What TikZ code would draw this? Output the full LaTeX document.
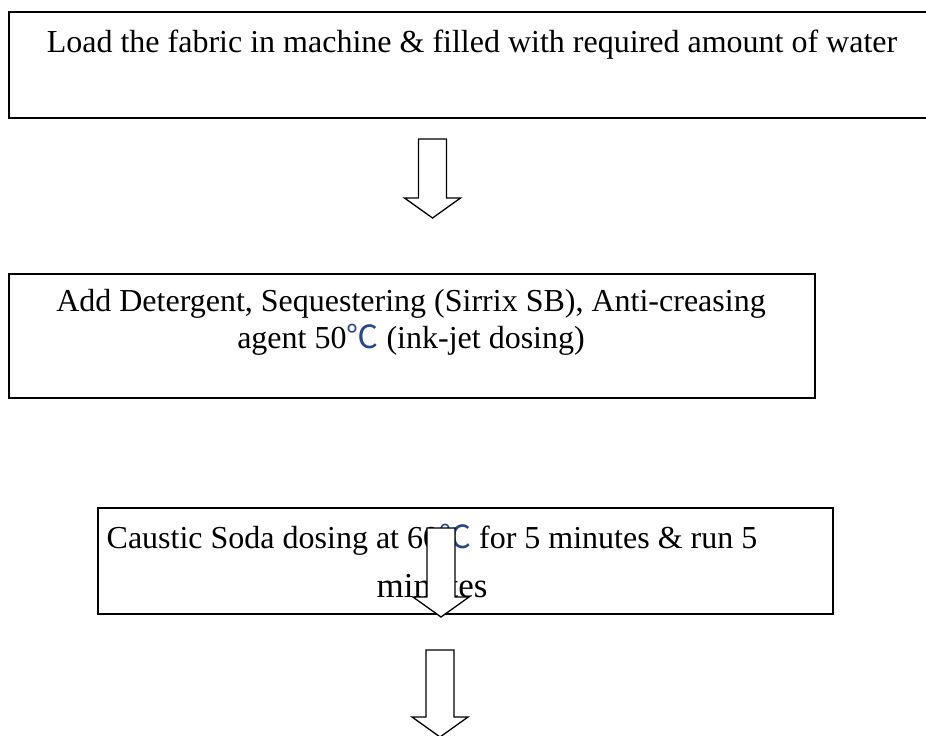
\documentclass[tikz,border=0pt]{standalone}
\usepackage{fontspec}
\setmainfont{Liberation Serif}
\newfontfamily\cjkfont{Noto Sans CJK SC}
\usepackage{xcolor}
\definecolor{degblue}{RGB}{40,70,140}
\usetikzlibrary{positioning}
\newcommand{\degC}{{\cjkfont\color{degblue}℃}}
\tikzset{pics/blockdown/.style={code={
  \draw[hollow] (-14,0) -- (-14,#1) -- (-28,#1) -- (0,#1+20) -- (28,#1) -- (14,#1) -- (14,0) -- cycle;}}}

\begin{document}
\begin{tikzpicture}[x=0.5pt,y=-0.5pt]
  \tikzstyle{stepbox}=[rectangle,draw=black,line width=1pt,inner sep=0pt,anchor=north west]
  \tikzstyle{steptext}=[inner sep=0pt,align=center,font=\fontsize{16}{18.4}\selectfont]
  \tikzstyle{hollow}=[draw=black,line width=0.65pt,fill=white,line join=miter]
  \useasboundingbox (0,0) rectangle (926,735);
  \clip (0,0) rectangle (926,735);
  % boxes
  \node[stepbox,minimum width=472pt,minimum height=53pt] (load) at (8,11) {};
  \node[stepbox,minimum width=403pt,minimum height=62pt] (add) at (8,273) {};
  \node[stepbox,minimum width=367.5pt,minimum height=53pt] (caustic) at (97,507) {};
  % texts
  \node[steptext,anchor=base] (loadtxt) at (472,52) {Load the fabric in machine \& filled with required amount of water};
  \node[steptext,anchor=base] (addtxt) at (411,348) {Add Detergent, Sequestering (Sirrix SB), Anti-creasing\\agent 50\degC{} (ink-jet dosing)};
  \node[steptext,anchor=base] (caustictxt) at (432,597) {Caustic Soda dosing at 60\degC{} for 5 minutes \& run 5\\[6pt]{\fontsize{17.5}{21}\selectfont minutes}};
  % arrows
  \pic at (432.5,139) {blockdown=59};
  \pic at (441,528) {blockdown=69};
  \pic at (440,650) {blockdown=67};
\end{tikzpicture}
\end{document}
